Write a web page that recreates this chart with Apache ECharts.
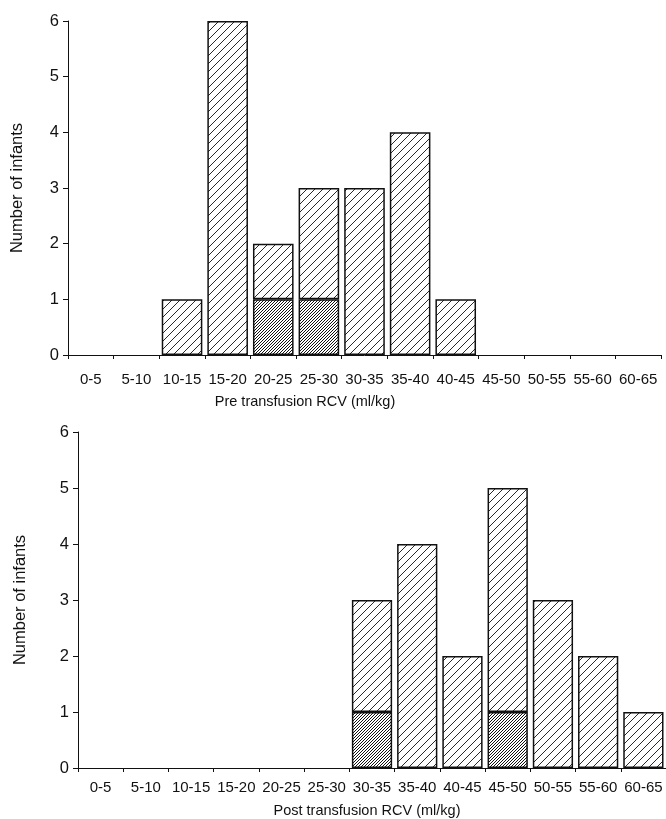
<!DOCTYPE html>
<html>
<head>
<meta charset="utf-8">
<script src="https://cdn.jsdelivr.net/npm/echarts@6/dist/echarts.min.js"></script>
<style>
  html, body { margin: 0; padding: 0; background: #fff; }
  #chart { width: 666px; height: 819px; }
</style>
</head>
<body>
<div id="chart"></div>
<script>
const categories = ['0-5','5-10','10-15','15-20','20-25','25-30','30-35','35-40','40-45','45-50','50-55','55-60','60-65']
const yTicks = [0, 1, 2, 3, 4, 5, 6]

// infants per RCV band, total and the dark-hatched subset
const preTotal = [0, 0, 1, 6, 2, 3, 3, 4, 1, 0, 0, 0, 0]
const preDark  = [0, 0, 0, 0, 1, 1, 0, 0, 0, 0, 0, 0, 0]
const postTotal = [0, 0, 0, 0, 0, 0, 3, 4, 2, 5, 3, 2, 1]
const postDark  = [0, 0, 0, 0, 0, 0, 1, 0, 0, 1, 0, 0, 0]

const FONT = '"Liberation Sans", Arial, sans-serif'
const INK = '#111'

function hatch(step, lw) {
  const c = document.createElement('canvas')
  c.width = step; c.height = step
  const g = c.getContext('2d')
  g.fillStyle = '#fff'
  g.fillRect(0, 0, step, step)
  g.strokeStyle = '#111'
  g.lineWidth = lw
  g.beginPath()
  g.moveTo(0, step); g.lineTo(step, 0)
  g.moveTo(-2, 2); g.lineTo(2, -2)
  g.moveTo(step - 2, step + 2); g.lineTo(step + 2, step - 2)
  g.stroke()
  return { image: c, repeat: 'repeat' }
}
const lightHatch = hatch(8, 0.9)
const darkHatch = hatch(3, 1)

const nz = v => (v > 0 ? v : null)

function xAxis(gridIndex, margin) {
  return {
    type: 'category', gridIndex, data: categories,
    axisLine: { lineStyle: { color: INK, width: 1 } },
    axisTick: { show: true, length: 4, lineStyle: { color: INK } },
    axisLabel: { color: INK, fontFamily: FONT, fontSize: 15, margin, interval: 0 }
  }
}
function yAxis(gridIndex, nameGap) {
  return {
    type: 'value', gridIndex, min: yTicks[0], max: yTicks[yTicks.length - 1], interval: 1,
    name: 'Number of infants', nameLocation: 'middle', nameGap,
    nameTextStyle: { color: INK, fontFamily: FONT, fontSize: 16.5 },
    axisLine: { show: true, lineStyle: { color: INK, width: 1 } },
    axisTick: { show: true, length: 5, lineStyle: { color: INK } },
    axisLabel: { color: INK, fontFamily: FONT, fontSize: 16.5, margin: 9 },
    splitLine: { show: false }
  }
}
function bars(idx, total, dark) {
  const style = { borderColor: INK, borderWidth: 1.5 }
  return [
    { type: 'bar', xAxisIndex: idx, yAxisIndex: idx, stack: 's' + idx, barWidth: '89%',
      data: dark.map(nz), itemStyle: { ...style, color: darkHatch }, animation: false },
    { type: 'bar', xAxisIndex: idx, yAxisIndex: idx, stack: 's' + idx, barWidth: '89%',
      data: total.map((t, i) => nz(t - dark[i])), itemStyle: { ...style, color: lightHatch }, animation: false }
  ]
}

const chart = echarts.init(document.getElementById('chart'))
chart.setOption({
  backgroundColor: '#fff',
  title: [
    { text: 'Pre transfusion RCV (ml/kg)', left: 300, top: 389, textAlign: 'center',
      textStyle: { color: INK, fontFamily: FONT, fontSize: 14.5, fontWeight: 'normal' } },
    { text: 'Post transfusion RCV (ml/kg)', left: 362, top: 798, textAlign: 'center',
      textStyle: { color: INK, fontFamily: FONT, fontSize: 14.5, fontWeight: 'normal' } }
  ],
  grid: [
    { left: 68, top: 21, width: 593, height: 334 },
    { left: 78, top: 432, width: 594, height: 336 }
  ],
  xAxis: [xAxis(0, 17), xAxis(1, 12)],
  yAxis: [yAxis(0, 42), yAxis(1, 49)],
  series: [...bars(0, preTotal, preDark), ...bars(1, postTotal, postDark)]
})
</script>
</body>
</html>
